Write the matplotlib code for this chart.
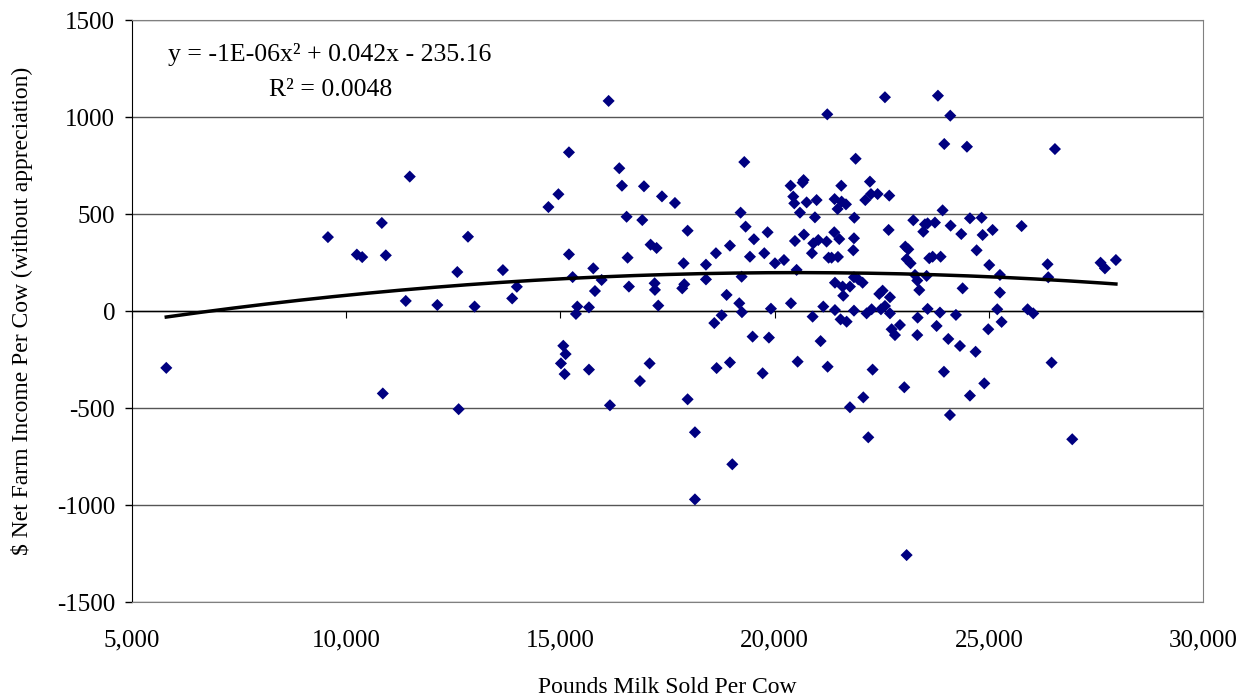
import matplotlib
matplotlib.use("Agg")
import matplotlib.pyplot as plt
import numpy as np
from matplotlib.ticker import StrMethodFormatter

# pounds milk sold per cow vs net farm income per cow
milk = [
    5800, 9573, 10248, 10373, 10831, 10924, 10854, 11483, 11390, 12127, 12593,
    12842, 12997, 12624, 13657, 13874, 13983, 14720, 14953,
    16125, 15199, 16374, 16436, 16950, 17370, 17673, 16545, 16911, 17969, 17105,
    17245, 15199, 16568, 15767, 17875, 15285, 15962, 15806, 16599, 17199, 17206,
    17844, 17891, 15394, 15362, 15666, 17284,
    15067, 15121, 15012, 15098, 15666, 17082, 16856, 16156, 17969, 18140, 18140,
    21229, 19292, 20676, 20653, 20373, 21556, 20435, 20459, 20747, 20980, 21400,
    21563, 21470, 19206, 20591, 20941, 19323, 19836, 19517, 18957, 18630, 18397,
    19424, 19759, 20008, 20218, 20474, 20684, 20902, 21019, 21213, 21392, 21509,
    20871, 21260, 21330, 21478, 20513, 18397, 19230, 21408, 21587, 21602, 18879,
    19175, 19914, 20381, 21136, 19237, 18763, 18592, 20887, 21408, 21540,
    19486, 19867, 21073, 18646, 18957, 19720, 20537, 21237, 19012,
    22575, 23812, 24100, 21891, 23960, 24489, 22225, 22249, 22404, 22116, 22676,
    21665, 21860, 23921, 23237, 23509, 23571, 23742, 23470, 24108, 24357, 24559,
    24832, 24855, 22661, 21852, 21836, 23050, 23120, 24715, 23081, 23174, 23610,
    23688, 23875, 21852, 21953, 22054, 21758, 23276, 23330, 23377, 23548, 24388,
    22443, 22521, 22692, 21852, 22147, 22264, 22482, 22575, 22692, 23338, 23571,
    23859, 24232, 21681, 22925, 23781, 22731,
    22809, 23330, 24054, 24326, 24691, 22287, 23952, 23027, 22070, 24559, 24894,
    21758, 24092, 22186, 23081,
    26543, 25088, 25765, 25010, 26371, 26387, 25259, 25259, 27608, 27710, 27966,
    25197, 25905, 26037, 25298, 24987, 26465, 26947,
]
income = [
    -293, 381, 291, 278, 454, 287, -425, 693, 52, 31, 201,
    383, 23, -506, 211, 65, 125, 536, 602,
    1083, 818, 736, 646, 643, 591, 557, 486, 469, 414, 342,
    325, 292, 275, 220, 246, 175, 160, 103, 126, 143, 109,
    117, 138, 23, -15, 19, 28,
    -179, -222, -270, -325, -302, -270, -361, -486, -455, -625, -971,
    1014, 768, 675, 662, 646, 646, 590, 555, 560, 572, 577,
    564, 526, 507, 507, 483, 435, 406, 370, 337, 298, 239,
    280, 298, 246, 263, 361, 394, 349, 366, 358, 406, 371,
    298, 275, 275, 279, 212, 163, 177, 146, 126, 79, 83,
    40, 12, 40, 23, -6, -22, -62, -29, 5, -43,
    -132, -137, -155, -294, -265, -321, -261, -287, -790,
    1102, 1110, 1007, 785, 861, 847, 667, 603, 603, 572, 595,
    550, 481, 519, 468, 447, 452, 456, 409, 440, 397, 478,
    481, 392, 418, 375, 313, 332, 318, 313, 268, 246, 272,
    280, 280, 174, 163, 146, 126, 186, 157, 108, 181, 117,
    88, 105, 71, 2, -12, 9, 9, 26, -12, -34, 11,
    -8, -20, -55, -72, -77, -94,
    -124, -124, -144, -180, -210, -302, -313, -393, -445, -436, -373,
    -496, -536, -651, -1258,
    835, 418, 438, 237, 241, 174, 186, 95, 249, 220, 263,
    9, 9, -12, -56, -94, -266, -661,
]

x_ticks = [5000, 10000, 15000, 20000, 25000, 30000]
y_ticks = [-1500, -1000, -500, 0, 500, 1000, 1500]
equation = "y = -1E-06x² + 0.042x - 235.16"
r_squared = "R² = 0.0048"

plt.rcParams["font.family"] = ["Liberation Serif", "DejaVu Serif"]
plt.rcParams["axes.unicode_minus"] = False

x = np.array(milk, dtype=float)
y = np.array(income, dtype=float)

fig = plt.figure(figsize=(12.49, 6.98), dpi=100)
ax = fig.add_axes([0.1057, 0.1375, 0.8575, 0.8338])

for v in y_ticks:
    ax.axhline(v, color="#555555", lw=1.0, zorder=1)
ax.axhline(0, color="black", lw=1.0, zorder=1)

ax.scatter(x, y, marker="D", s=38, color="#000080", edgecolors="none", zorder=3)

# 2nd order polynomial trend line
coef = np.polyfit(x, y, 2)
xs = np.linspace(x.min(), x.max(), 200)
ax.plot(xs, np.polyval(coef, xs), color="black", lw=2.5, zorder=4)

ax.set_xlim(x_ticks[0], x_ticks[-1])
ax.set_ylim(y_ticks[0], y_ticks[-1])
ax.set_xticks(x_ticks)
ax.set_yticks(y_ticks)
ax.xaxis.set_major_formatter(StrMethodFormatter("{x:,.0f}"))
ax.tick_params(axis="x", length=0, pad=20, labelsize=18)
ax.tick_params(axis="y", length=5, direction="out", width=1, labelsize=18, pad=7)

for side in ["top", "right", "bottom"]:
    ax.spines[side].set_color("#808080")
ax.spines["left"].set_color("black")

# tick marks on the zero line
sec = ax.secondary_xaxis(0.5)
sec.set_xticks(x_ticks)
sec.tick_params(axis="x", direction="out", length=5, labelbottom=False,
                labeltop=False, top=False, bottom=True)
sec.spines["bottom"].set_visible(False)
sec.spines["top"].set_visible(False)

ax.set_xlabel("Pounds Milk Sold Per Cow", fontsize=17, labelpad=18)
ax.set_ylabel("$ Net Farm Income Per Cow (without appreciation)", fontsize=17, labelpad=17)

ax.text(0.185, 0.94, equation, transform=ax.transAxes, ha="center", va="center", fontsize=18.5)
ax.text(0.185, 0.88, r_squared, transform=ax.transAxes, ha="center", va="center", fontsize=18.5)

fig.savefig("out.png", dpi=100)
